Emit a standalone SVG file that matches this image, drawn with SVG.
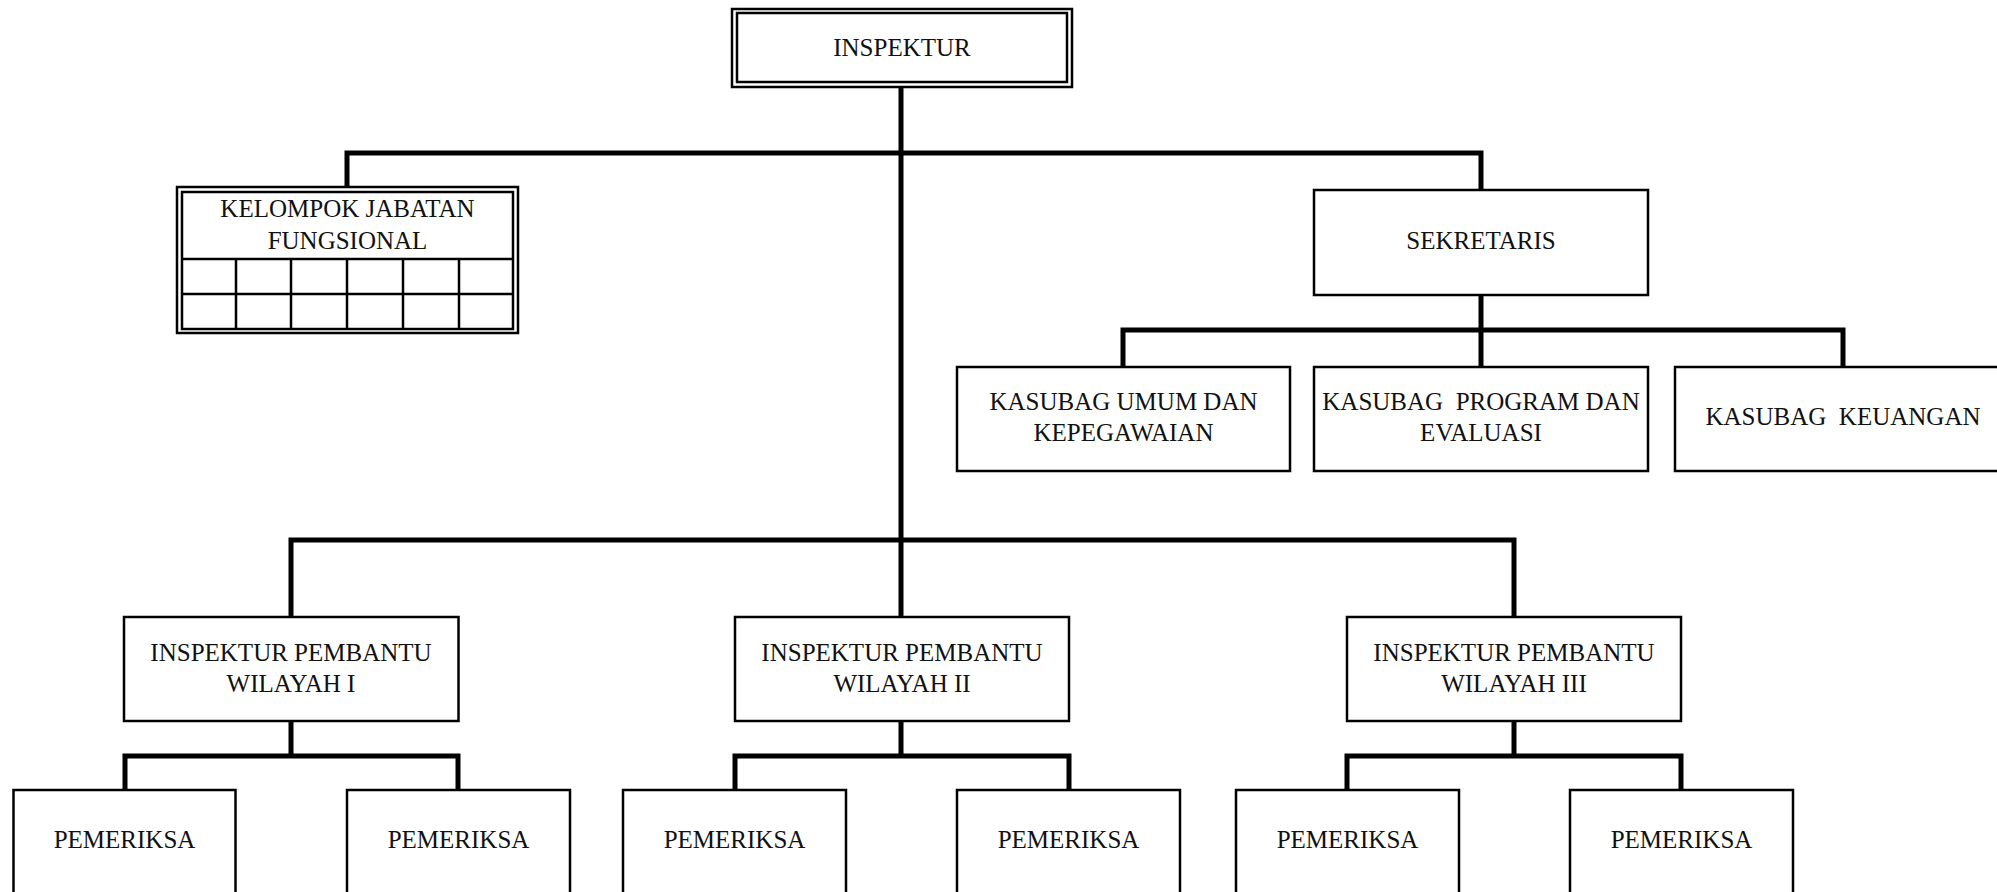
<svg xmlns="http://www.w3.org/2000/svg" width="1997" height="892" viewBox="0 0 1997 892">
<style>
.box{fill:#fff;stroke:#000;stroke-width:2.5}
.thin{fill:none;stroke:#000;stroke-width:2.5}
.conn{fill:none;stroke:#000;stroke-width:5;stroke-linecap:square;stroke-linejoin:miter}
text{font-family:"Liberation Serif","Times New Roman",serif;font-size:25px;fill:#111;text-anchor:middle;white-space:pre}
</style>
<rect width="1997" height="892" fill="#fff"/>
<g id="connectors">
<path class="conn" d="M901 87V617"/>
<path class="conn" d="M347 187V153H1481V190"/>
<path class="conn" d="M1481 295V330M1123 367V330H1843V367M1481 330V367"/>
<path class="conn" d="M291 617V540H1514V617"/>
<path class="conn" d="M291 721V756M125 790V756H458V790"/>
<path class="conn" d="M901 721V756M735 790V756H1069V790"/>
<path class="conn" d="M1514 721V756M1347 790V756H1681V790"/>
</g>
<g id="inspektur">
<rect class="box" x="732" y="9" width="340" height="78"/>
<rect class="thin" x="737" y="13" width="330" height="69"/>
<text x="902" y="56">INSPEKTUR</text>
</g>
<g id="kelompok">
<rect class="box" x="177" y="187" width="341" height="146"/>
<rect class="thin" x="182" y="192" width="331" height="137"/>
<path class="thin" d="M182 259H513M182 294H513M236 259V329M291 259V329M347 259V329M403 259V329M459 259V329"/>
<text x="347.5" y="217">KELOMPOK JABATAN</text>
<text x="347.5" y="249">FUNGSIONAL</text>
</g>
<g id="sekretaris">
<rect class="box" x="1314" y="190" width="334" height="105"/>
<text x="1481" y="249">SEKRETARIS</text>
</g>
<g id="kasubag-umum">
<rect class="box" x="957" y="367" width="333" height="104"/>
<text x="1123.5" y="410">KASUBAG UMUM DAN</text>
<text x="1123.5" y="441">KEPEGAWAIAN</text>
</g>
<g id="kasubag-program">
<rect class="box" x="1314" y="367" width="334" height="104"/>
<text x="1481" y="410">KASUBAG  PROGRAM DAN</text>
<text x="1481" y="441">EVALUASI</text>
</g>
<g id="kasubag-keuangan">
<rect class="box" x="1675" y="367" width="336" height="104"/>
<text x="1843" y="425">KASUBAG  KEUANGAN</text>
</g>
<g id="ip1">
<rect class="box" x="124" y="617" width="334.5" height="104"/>
<text x="291" y="661">INSPEKTUR PEMBANTU</text>
<text x="291" y="692">WILAYAH I</text>
</g>
<g id="ip2">
<rect class="box" x="735" y="617" width="334" height="104"/>
<text x="902" y="661">INSPEKTUR PEMBANTU</text>
<text x="902" y="692">WILAYAH II</text>
</g>
<g id="ip3">
<rect class="box" x="1347" y="617" width="334" height="104"/>
<text x="1514" y="661">INSPEKTUR PEMBANTU</text>
<text x="1514" y="692">WILAYAH III</text>
</g>
<g id="pemeriksa-1a"><rect class="box" x="13.5" y="790" width="222" height="120"/><text x="124.5" y="848">PEMERIKSA</text></g>
<g id="pemeriksa-1b"><rect class="box" x="347" y="790" width="223" height="120"/><text x="458.5" y="848">PEMERIKSA</text></g>
<g id="pemeriksa-2a"><rect class="box" x="623" y="790" width="223" height="120"/><text x="734.5" y="848">PEMERIKSA</text></g>
<g id="pemeriksa-2b"><rect class="box" x="957" y="790" width="223" height="120"/><text x="1068.5" y="848">PEMERIKSA</text></g>
<g id="pemeriksa-3a"><rect class="box" x="1236" y="790" width="223" height="120"/><text x="1347.5" y="848">PEMERIKSA</text></g>
<g id="pemeriksa-3b"><rect class="box" x="1570" y="790" width="223" height="120"/><text x="1681.5" y="848">PEMERIKSA</text></g>
</svg>
